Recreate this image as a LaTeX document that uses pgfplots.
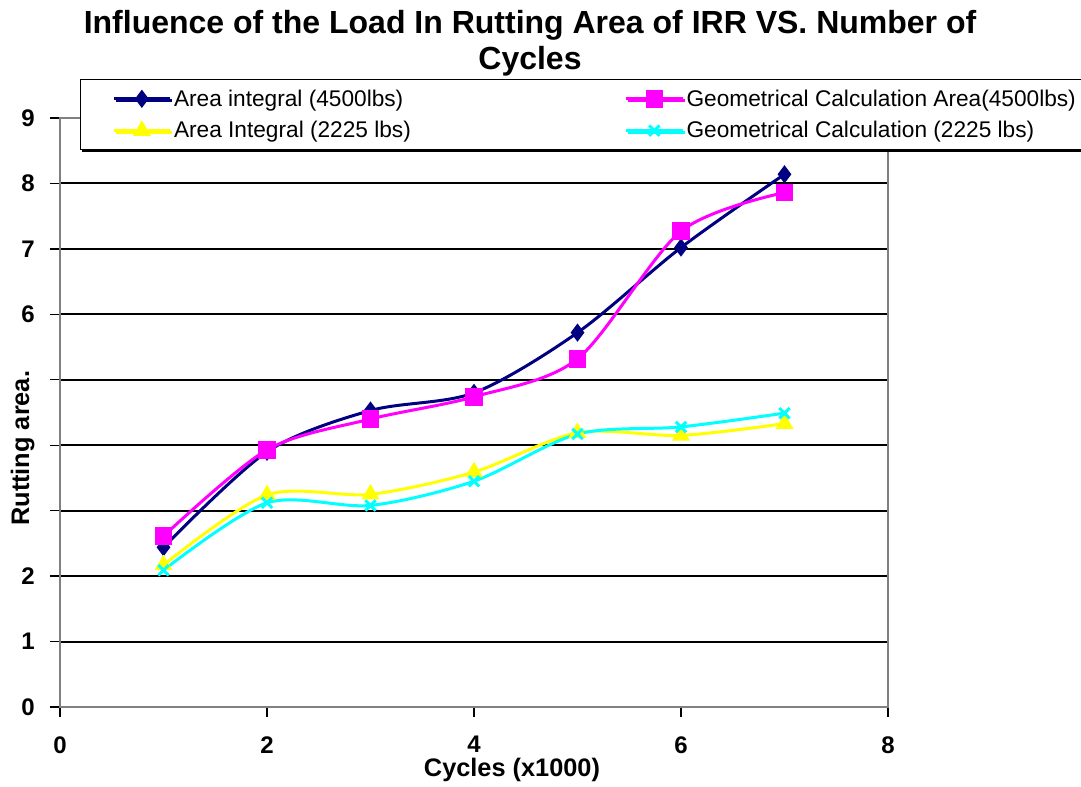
\documentclass[border=0pt]{standalone}
\usepackage{pgfplots}
\pgfplotsset{compat=1.18}
\usetikzlibrary{shadows}
\usepackage{fontspec}
\setmainfont{Liberation Sans}
\definecolor{navyc}{RGB}{0,0,128}
\definecolor{magc}{RGB}{255,0,255}
\definecolor{yelc}{RGB}{255,255,0}
\definecolor{cyac}{RGB}{0,255,255}
\begin{document}
\begin{tikzpicture}[x=1pt,y=1pt]
\path[use as bounding box] (0,0) rectangle (810.75,590.25);
\begin{axis}[
 at={(45pt,60pt)}, anchor=south west,
 width=621pt, height=441.75pt, scale only axis,
 xmin=0, xmax=8, ymin=0, ymax=9,
 xtick={0,2,4,6,8}, ytick={0,1,...,9},
 ymajorgrids, grid style={black, line width=1.5pt},
 axis line style={gray, line width=1.2pt},
 tick pos=left, tick align=outside, major tick length=7.5pt,
 tick style={black, line width=1pt},
 ticklabel style={font=\fontsize{18}{22}\selectfont\bfseries},
 /pgf/number format/assume math mode=true,
 yticklabel style={xshift=-8pt},
 xticklabel style={yshift=-11pt},
 legend columns=2,
 legend cell align=left,
 legend style={at={(0.024,1.066)}, anchor=north west, draw=black, line width=0.75pt,
   drop shadow={shadow xshift=1.5pt, shadow yshift=-1.5pt, fill=black, opacity=1},
   font=\fontsize{17}{20}\selectfont,
   /tikz/every even column/.append style={column sep=136.5pt},
   row sep=6pt, inner xsep=2pt, inner ysep=5.5pt},
 legend image code/.code={\path (-22pt,0pt); \draw[mark repeat=2,mark phase=2] plot coordinates {(0pt,0pt) (21pt,0pt) (42pt,0pt)};},
]
\addplot[navyc, line width=2.25pt, smooth, mark=diamond*, mark size=5pt, mark options={solid}]
 coordinates {(1,2.44) (2,3.90) (3,4.53) (4,4.80) (5,5.72) (6,7.02) (7,8.14)};
\addlegendentry{Area integral (4500lbs)}
\addplot[magc, line width=2.25pt, smooth, mark=square*, mark size=5.5pt, mark options={solid}]
 coordinates {(1,2.61) (2,3.93) (3,4.40) (4,4.74) (5,5.32) (6,7.27) (7,7.86)};
\addlegendentry{Geometrical Calculation Area(4500lbs)}
\addplot[yelc, line width=2.25pt, smooth, mark=triangle*, mark size=5.5pt, mark options={solid}]
 coordinates {(1,2.17) (2,3.24) (3,3.25) (4,3.59) (5,4.19) (6,4.15) (7,4.33)};
\addlegendentry{Area Integral (2225 lbs)}
\addplot[cyac, line width=2.25pt, smooth, mark=x, mark size=5.5pt, mark options={solid}]
 coordinates {(1,2.09) (2,3.12) (3,3.08) (4,3.45) (5,4.17) (6,4.28) (7,4.49)};
\addlegendentry{Geometrical Calculation (2225 lbs)}
\end{axis}
\node[align=center, anchor=north, font=\fontsize{24}{27}\selectfont\bfseries] at (397.5,586)
 {Influence of the Load In Rutting Area of IRR VS. Number of\\Cycles};
\node[rotate=90, fill=white, inner sep=3pt, font=\fontsize{19}{22}\selectfont\bfseries] at (17,254) {Rutting area.};
\node[font=\fontsize{19}{22}\selectfont\bfseries] at (384,12.75) {Cycles (x1000)};
\end{tikzpicture}
\end{document}
